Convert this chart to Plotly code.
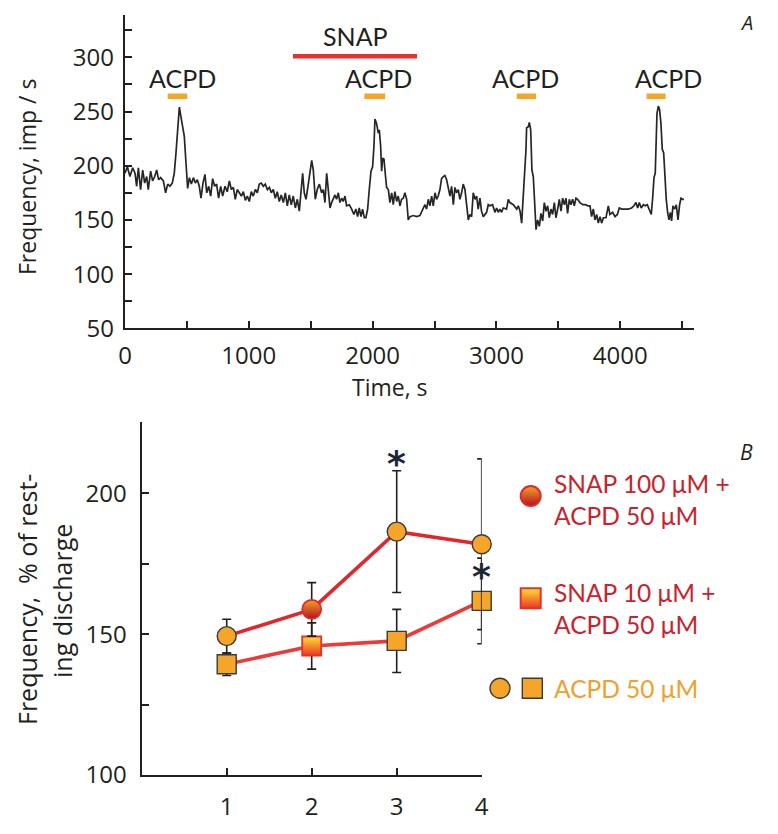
import plotly.graph_objects as go

# Page is photographed at 778x834; the HTML body adds an 8px margin, so the figure is
# drawn 8px in from the top-left corner and sized to fill the rest of the window.
PAGE_W, PAGE_H = 778, 834
OFF = 8
W, H = PAGE_W - OFF, PAGE_H - OFF

# ---------------- Panel A data ----------------
time_s = [0, 19, 40, 62, 81, 94, 108, 126, 143, 159, 175, 188, 207, 223, 240, 256, 272, 288, 310, 328,
          345, 363, 382, 398, 412, 425, 439, 452, 466, 479, 493, 506, 520, 536, 552, 568, 584, 600, 614, 630,
          646, 660, 676, 692, 708, 724, 740, 756, 773, 789, 808, 826, 843, 859, 875, 891, 907, 923, 940, 956,
          972, 988, 1004, 1020, 1036, 1053, 1069, 1085, 1101, 1117, 1133, 1150, 1166, 1182, 1198, 1214, 1230,
          1246, 1262, 1279, 1295, 1311, 1327, 1343, 1359, 1376, 1392, 1408, 1421, 1435, 1448, 1462, 1478, 1494,
          1508, 1521, 1537, 1553, 1570,
          1588, 1602, 1615, 1629, 1642, 1656, 1669, 1682, 1696, 1709, 1723, 1736, 1750, 1763, 1777, 1790,
          1812, 1831, 1849, 1865, 1879, 1892, 1906, 1919, 1933, 1946, 1960, 1973, 1987, 2000, 2011, 2019, 2032,
          2046, 2054, 2065, 2073, 2081, 2092, 2102, 2113, 2127, 2140, 2154, 2167, 2180, 2194, 2207, 2221, 2234,
          2248, 2261, 2275, 2288, 2302, 2329, 2355, 2382, 2396, 2409, 2423, 2436, 2450, 2463, 2477, 2490, 2504,
          2517, 2530, 2544, 2557, 2571, 2584, 2598, 2611, 2625, 2638, 2652, 2665, 2678, 2692, 2705, 2719, 2732,
          2746, 2759, 2773, 2786, 2800, 2813, 2827, 2840, 2853, 2867, 2880, 2894, 2907, 2921, 2934, 2948, 2969,
          2988, 3002, 3015, 3028, 3042, 3055, 3082, 3096, 3109,
          3137, 3164, 3177, 3191, 3204, 3217, 3228, 3239, 3244, 3258, 3266, 3277, 3287, 3298, 3309, 3320, 3333,
          3347, 3360, 3374, 3387, 3401, 3414, 3427, 3441, 3454, 3468, 3481, 3495, 3508, 3522, 3535, 3549, 3562,
          3575, 3589, 3602, 3616, 3629, 3643, 3656, 3675, 3697, 3718, 3740, 3756, 3769, 3783, 3796, 3810, 3823,
          3837, 3850, 3864, 3885, 3904, 3917, 3939, 3958, 3977, 3993, 4012, 4038, 4065, 4092, 4111, 4127, 4141,
          4154, 4170, 4187, 4203, 4219, 4235, 4251, 4262, 4273, 4283, 4289, 4297, 4308, 4318, 4329, 4340, 4351,
          4362, 4372, 4383, 4394, 4405, 4415, 4426, 4440, 4453, 4467, 4480, 4491, 4504, 4515]
freq_imp = [193, 199, 190, 198, 193, 181, 198, 178, 196, 184, 190, 178, 195, 186, 190, 196, 187, 189, 186, 175,
            183, 181, 184, 193, 212, 236, 254, 245, 236, 227, 202, 179, 189, 183, 189, 184, 187, 181, 170, 184,
            192, 175, 181, 172, 188, 181, 183, 170, 181, 172, 181, 176, 186, 178, 180, 169, 178, 175, 172, 176,
            168, 172, 167, 176, 172, 178, 175, 183, 184, 181, 183, 178, 180, 175, 178, 170, 176,
            167, 173, 166, 175, 163, 173, 164, 172, 161, 169, 158, 178, 193, 175, 169, 181, 193,
            205, 196, 169, 178, 183,
            175, 178, 166, 193, 178, 161, 166, 170, 173, 169, 175, 166, 170, 167, 172, 163,
            164, 160, 155, 160, 153, 161, 153, 160, 152, 152, 160, 178, 195, 199, 218, 243, 239,
            230, 233, 218, 195, 207, 206, 193, 180, 178, 166, 175, 164, 176, 167, 172, 163, 169,
            170, 175, 169, 150, 153, 154, 153, 154, 157, 161, 164, 160, 169, 163, 172, 163, 175,
            169, 172, 178, 188, 190, 191, 187, 178, 172, 181, 164, 180, 175, 178, 169, 175, 183,
            178, 166, 150, 155, 153, 175, 169, 172, 160, 170, 158, 153, 155, 157, 164, 163, 164,
            157, 161, 157, 160, 157, 161, 160, 169, 166,
            164, 160, 163, 158, 147, 172, 184, 215, 235, 236, 240, 233, 196, 190, 166, 141, 150,
            144, 156, 149, 166, 158, 163, 152, 160, 155, 166, 152, 160, 169, 158, 170, 164, 170,
            156, 169, 164, 169, 163, 170, 169, 166, 164, 164, 163, 163, 153, 160, 150, 155, 147,
            153, 147, 152, 152, 163, 155, 157, 153, 155, 161, 160, 160, 160, 161, 163, 166, 161,
            166, 161, 164, 163, 164, 160, 155, 170, 189, 193, 215, 248, 255, 252, 239, 215, 212,
            184, 169, 157, 150, 157, 149, 163, 160, 164, 150, 164, 170, 169, 169]

acpd_start = [345, 1933, 3164, 4213]
acpd_end = [503, 2102, 3320, 4367]
acpd_bar_level = 264
acpd_label_time = [466, 2045, 3232, 4390]
acpd_label_level = 281
snap_start, snap_end = 1357, 2359
snap_level = 301
snap_label_time = 1858
snap_label_level = 320

# ---------------- Panel B data ----------------
step = [1, 2, 3, 4]
snap100 = [149.3, 158.8, 186.4, 181.9]
snap100_err = [6.0, 9.5, 21.6, 30.3]
snap10 = [139.3, 145.8, 147.6, 161.8]
snap10_err = [4.0, 8.2, 11.2, 15.2]
star_x = [3, 4]
star_y = [212.8, 172.5]

legend_labels = ["SNAP 100 μM +<br>ACPD 50 μM", "SNAP 10 μM +<br>ACPD 50 μM", "ACPD 50 μM"]

# ---------------- styling ----------------
INK = "#231f20"
ORANGE = "#f5a52a"
RED = "#e3262c"
RED2 = "#ee3a36"
LEGRED = "#c8232c"
TICKFONT = dict(family="Open Sans", size=24, color=INK)
LABFONT = dict(family="Open Sans", size=23, color=INK)
GILL = "Lato"

def px_x(p):
    return (p - OFF) / W

def px_y(p):
    return 1 - (p - OFF) / H

fig = go.Figure()

# Panel A trace
fig.add_trace(go.Scatter(x=time_s, y=freq_imp, mode="lines", line=dict(color="#262626", width=1.7),
                         xaxis="x", yaxis="y", showlegend=False, hoverinfo="skip"))
# ACPD bars
bx, by = [], []
for s, e in zip(acpd_start, acpd_end):
    bx += [s, e, None]
    by += [acpd_bar_level, acpd_bar_level, None]
fig.add_trace(go.Scatter(x=bx, y=by, mode="lines", line=dict(color=ORANGE, width=5.5),
                         xaxis="x", yaxis="y", showlegend=False, hoverinfo="skip"))
# SNAP bar
fig.add_trace(go.Scatter(x=[snap_start, snap_end], y=[snap_level, snap_level], mode="lines",
                         line=dict(color="#e8312f", width=4.5), xaxis="x", yaxis="y",
                         showlegend=False, hoverinfo="skip"))

# Panel B
def series(yv, ev, symbol, linecolor, special):
    colors = [ORANGE] * 4
    gtype = ["none"] * 4
    gcol = [ORANGE] * 4
    lcol = ["#3a3a3a"] * 4
    lw = [1.4] * 4
    colors[1] = special[0]
    gtype[1] = "vertical"
    gcol[1] = special[1]
    lcol[1] = special[2]
    lw[1] = 1.8
    return go.Scatter(
        x=step, y=yv, mode="lines+markers", xaxis="x2", yaxis="y2", showlegend=False,
        cliponaxis=False,
        line=dict(color=linecolor, width=3.6),
        error_y=dict(type="data", array=ev, visible=True, color=INK, thickness=1.6, width=4.5),
        marker=dict(symbol=symbol, size=19, color=colors,
                    gradient=dict(type=gtype, color=gcol),
                    line=dict(color=lcol, width=lw)),
        hoverinfo="skip")

fig.add_trace(series(snap10, snap10_err, "square", RED2, ("#ffe034", "#ec3624", "#e8302a")))
fig.add_trace(series(snap100, snap100_err, "circle", RED, ("#f5a02e", "#b3121c", "#e02a2a")))

# Legend icons on a page-pixel overlay axis
leg_icon_x = [530.7, 530.7, 500.0, 532.3]
leg_icon_y = [496.0, 598.3, 688.3, 688.3]
fig.add_trace(go.Scatter(
    x=leg_icon_x, y=leg_icon_y, mode="markers", xaxis="x3", yaxis="y3", showlegend=False,
    cliponaxis=False,
    marker=dict(symbol=["circle", "square", "circle", "square"], size=20,
                color=["#f5a02e", "#ffe034", ORANGE, ORANGE],
                gradient=dict(type=["vertical", "vertical", "none", "none"],
                              color=["#b3121c", "#ec3624", ORANGE, ORANGE]),
                line=dict(color=["#e02a2a", "#e8302a", "#3a3a3a", "#3a3a3a"], width=[2, 2, 1.4, 1.4])),
    hoverinfo="skip"))

ann = []
# ACPD labels
for t in acpd_label_time:
    ann.append(dict(x=t, y=acpd_label_level, xref="x", yref="y", text="ACPD", showarrow=False,
                    font=dict(family=GILL, size=25, color=INK), xanchor="center", yanchor="middle"))
ann.append(dict(x=snap_label_time, y=snap_label_level, xref="x", yref="y", text="SNAP", showarrow=False,
                font=dict(family=GILL, size=25, color=INK), xanchor="center", yanchor="middle"))
# asterisks
for sx, sy in zip(star_x, star_y):
    ann.append(dict(x=sx, y=sy, xref="x2", yref="y2", text="<b>*</b>", showarrow=False, yshift=-6,
                    font=dict(family="DejaVu Sans", size=36, color="#1d2733"),
                    xanchor="center", yanchor="middle"))
# axis titles
ann.append(dict(x=px_x(27), y=px_y(177), xref="paper", yref="paper", text="Frequency, imp / s",
                textangle=-90, showarrow=False, font=LABFONT, xanchor="center", yanchor="middle"))
ann.append(dict(x=px_x(390), y=px_y(387), xref="paper", yref="paper", text="Time, s",
                showarrow=False, font=LABFONT, xanchor="center", yanchor="middle"))
ann.append(dict(x=px_x(27), y=px_y(600), xref="paper", yref="paper", text="Frequency,  % of rest-",
                textangle=-90, showarrow=False, font=dict(family="Open Sans", size=25, color=INK),
                xanchor="center", yanchor="middle"))
ann.append(dict(x=px_x(62), y=px_y(601), xref="paper", yref="paper", text="ing discharge",
                textangle=-90, showarrow=False, font=dict(family="Open Sans", size=25, color=INK),
                xanchor="center", yanchor="middle"))
# panel letters
ann.append(dict(x=px_x(746), y=px_y(23), xref="paper", yref="paper", text="<i>A</i>",
                showarrow=False, font=dict(family="Open Sans", size=20, color=INK),
                xanchor="center", yanchor="middle"))
ann.append(dict(x=px_x(746), y=px_y(452), xref="paper", yref="paper", text="<i>B</i>",
                showarrow=False, font=dict(family="Open Sans", size=21, color=INK),
                xanchor="center", yanchor="middle"))
# legend texts
leg_text_y = [499.7, 608.9, 688.3]
leg_colors = [LEGRED, LEGRED, "#f0a02c"]
for txt, yy, col in zip(legend_labels, leg_text_y, leg_colors):
    ann.append(dict(x=px_x(551.7), y=px_y(yy), xref="paper", yref="paper", text=txt,
                    showarrow=False, font=dict(family=GILL, size=24.5, color=col),
                    xanchor="left", yanchor="middle", align="left"))

axis_common = dict(showgrid=False, zeroline=False, showline=True, linecolor=INK, linewidth=2.4,
                   ticks="inside", ticklen=7, tickwidth=2, tickcolor=INK, tickfont=TICKFONT,
                   automargin=False)

# Panel A geometry (page pixels): x 0 -> 125px, 1000 per 123.8px ; y 50 -> 328.3px, 1.084 px/unit
xa_range = [0, 4600]
ya_range = [50, 339]
fig.update_layout(
    width=W, height=H, margin=dict(l=0, r=0, t=0, b=0, pad=0, autoexpand=False),
    paper_bgcolor="white", plot_bgcolor="rgba(0,0,0,0)",
    xaxis=dict(domain=[px_x(125), px_x(125 + 4600 * 0.1238)], range=xa_range, anchor="y",
               tickvals=[0, 1000, 2000, 3000, 4000], ticklabelstandoff=5,
               minor=dict(dtick=500, tick0=0, ticks="inside", ticklen=7, tickwidth=2, tickcolor=INK),
               **axis_common),
    yaxis=dict(domain=[px_y(328.3), px_y(328.3 - 289 * 1.084)], range=ya_range, anchor="x",
               tickvals=[50, 100, 150, 200, 250, 300], ticklabelstandoff=4,
               minor=dict(tickvals=[75, 125, 175, 225, 275, 325], ticks="inside", ticklen=7,
                          tickwidth=2, tickcolor=INK),
               **axis_common),
    xaxis2=dict(domain=[px_x(141.7), px_x(481.7)], range=[0.0, 4.0], anchor="y2",
                tickvals=[1, 2, 3, 4], ticklabelstandoff=9, **axis_common),
    yaxis2=dict(domain=[px_y(775), px_y(422.3)], range=[100, 225.2], anchor="x2",
                tickvals=[100, 150, 200], ticklabelstandoff=8,
                minor=dict(tickvals=[125, 175], ticks="inside", ticklen=7, tickwidth=2, tickcolor=INK),
                **axis_common),
    xaxis3=dict(domain=[0, 1], range=[OFF, PAGE_W], visible=False, anchor="y3", fixedrange=True,
                automargin=False),
    yaxis3=dict(domain=[0, 1], range=[PAGE_H, OFF], visible=False, anchor="x3", fixedrange=True,
                automargin=False),
    annotations=ann,
)

fig.write_html("out.html")
